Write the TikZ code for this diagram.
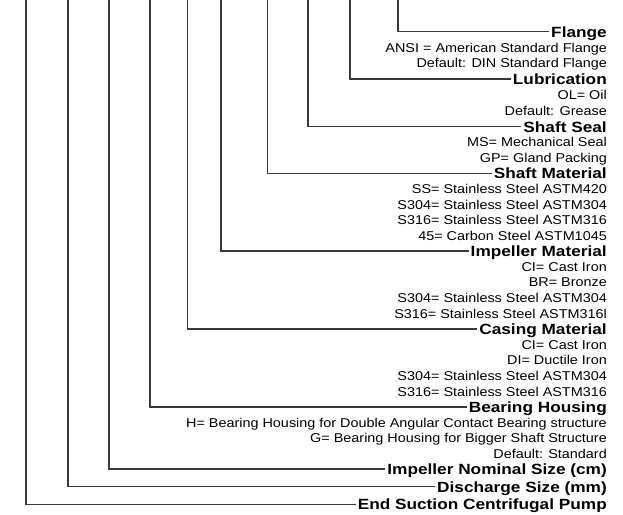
\documentclass[tikz,border=0pt]{standalone}
\usepackage{fontspec}
\newfontfamily\hfont{Liberation Sans}[FakeStretch=1.165]
\newfontfamily\sfont{Liberation Sans}[FakeStretch=1.125]
\begin{document}
\begin{tikzpicture}[x=1pt,y=-1pt,
  head/.style={font=\hfont\bfseries\fontsize{14.8}{16}\selectfont, anchor=east, inner xsep=2pt, inner ysep=0pt, text height=10.6pt, text depth=0pt},
  sub/.style={font=\sfont\fontsize{12.8}{14}\selectfont, anchor=east, inner xsep=0pt, inner ysep=0pt, text height=9.2pt, text depth=0pt},
  conn/.style={draw=black!78, line width=1.1pt}]
\useasboundingbox (0,0) rectangle (623,514);
% headings
\node[head] (h1)  at (609,31.7)  {Flange};
\node[sub]  (s11) at (607,47.5)  {ANSI = American Standard Flange};
\node[sub]  (s12) at (607,63.3)  {Default: DIN Standard Flange};
\node[head] (h2)  at (609,79)    {Lubrication};
\node[sub]  (s21) at (607,94.9)  {OL= Oil};
\node[sub]  (s22) at (607,110.8) {Default: Grease};
\node[head] (h3)  at (609,126.7) {Shaft Seal};
\node[sub]  (s31) at (607,142.3) {MS= Mechanical Seal};
\node[sub]  (s32) at (607,157.9) {GP= Gland Packing};
\node[head] (h4)  at (609,173.5) {Shaft Material};
\node[sub]  (s41) at (607,189)   {SS= Stainless Steel ASTM420};
\node[sub]  (s42) at (607,204.5) {S304= Stainless Steel ASTM304};
\node[sub]  (s43) at (607,220)   {S316= Stainless Steel ASTM316};
\node[sub]  (s44) at (607,235.5) {45= Carbon Steel ASTM1045};
\node[head] (h5)  at (609,251)   {Impeller Material};
\node[sub]  (s51) at (607,266.6) {CI= Cast Iron};
\node[sub]  (s52) at (607,282.2) {BR= Bronze};
\node[sub]  (s53) at (607,297.8) {S304= Stainless Steel ASTM304};
\node[sub]  (s54) at (607,313.4) {S316= Stainless Steel ASTM316l};
\node[head] (h6)  at (609,329)   {Casing Material};
\node[sub]  (s61) at (607,344.6) {CI= Cast Iron};
\node[sub]  (s62) at (607,360.2) {DI= Ductile Iron};
\node[sub]  (s63) at (607,375.8) {S304= Stainless Steel ASTM304};
\node[sub]  (s64) at (607,391.4) {S316= Stainless Steel ASTM316};
\node[head] (h7)  at (609,407)   {Bearing Housing};
\node[sub]  (s71) at (607,422.5) {H= Bearing Housing for Double Angular Contact Bearing structure};
\node[sub]  (s72) at (607,438)   {G= Bearing Housing for Bigger Shaft Structure};
\node[sub]  (s73) at (607,453.5) {Default: Standard};
\node[head] (h8)  at (609,469)   {Impeller Nominal Size (cm)};
\node[head] (h9)  at (609,486.75){Discharge Size (mm)};
\node[head] (h10) at (609,504.5) {End Suction Centrifugal Pump};
% top ends of connectors
\coordinate (t1)  at (398,0);
\coordinate (t2)  at (350,0);
\coordinate (t3)  at (308,0);
\coordinate (t4)  at (267.5,0);
\coordinate (t5)  at (221,0);
\coordinate (t6)  at (187.5,0);
\coordinate (t7)  at (150,0);
\coordinate (t8)  at (109,0);
\coordinate (t9)  at (68,0);
\coordinate (t10) at (26,0);
\foreach \i in {1,...,10} \draw[conn] (t\i) |- (h\i.west);
\end{tikzpicture}
\end{document}
